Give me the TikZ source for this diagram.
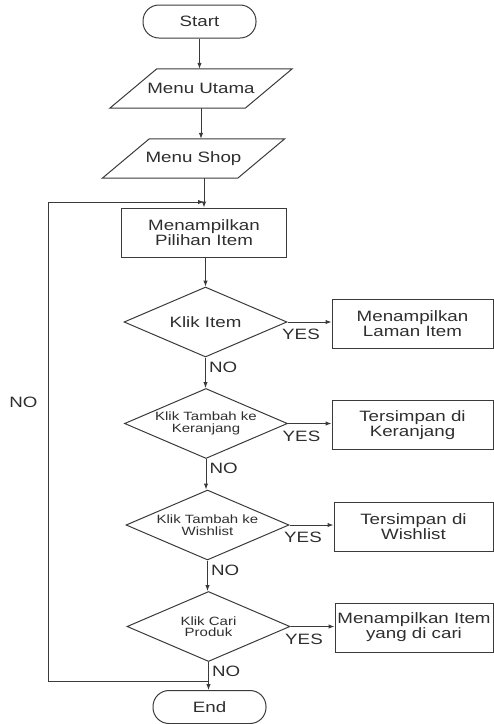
\documentclass[tikz,border=0pt]{standalone}
\usepackage{fontspec}
\setmainfont{Liberation Sans}[FakeStretch=1.25]
\usetikzlibrary{shapes.geometric,arrows.meta,calc}
\definecolor{ink}{HTML}{3A3A3A}
\definecolor{txt}{HTML}{2E2E2E}
\begin{document}
\begin{tikzpicture}[x=1pt,y=-1pt,
  every node/.style={text=txt, font=\fontsize{15}{15}\selectfont, align=center, inner sep=0pt},
  line/.style={draw=ink, line width=1pt},
  arr/.style={line, -{Latex[length=6pt,width=4.5pt]}},
  term/.style={line, rectangle, rounded corners=16pt, minimum width=113pt, minimum height=33pt},
  iobox/.style={minimum width=135pt, minimum height=39pt},
  procbox/.style={line, rectangle, minimum height=49pt},
  decision/.style={line, diamond, aspect=2.33, minimum width=163pt, minimum height=70pt},
  small/.style={font=\fontsize{12}{11.5}\selectfont},
  lbl/.style={font=\fontsize{15}{15}\selectfont}
]
\useasboundingbox (0,0) rectangle (494,724);

% terminals, input/output and process boxes
\node[term] (st) at (199.5,21.5) {Start};
\node[iobox] (mu) at (201,88.5) {Menu Utama};
\node[iobox] (ms) at (193.5,158.5) {Menu Shop};
\node[procbox, minimum width=165pt] (pil) at (204,232.5) {Menampilkan\\Pilihan Item};

% parallelogram outlines of the two menu nodes
\draw[line] ($(mu.north west)+(23.5,0)$) -- ($(mu.north east)+(23.5,0)$)
  -- ($(mu.south east)+(-23.5,0)$) -- ($(mu.south west)+(-23.5,0)$) -- cycle;
\draw[line] ($(ms.north west)+(23.5,0)$) -- ($(ms.north east)+(23.5,0)$)
  -- ($(ms.south east)+(-23.5,0)$) -- ($(ms.south west)+(-23.5,0)$) -- cycle;

% decisions
\node[decision] (d1) at (205.5,322) {Klik Item};
\node[decision, small] (d2) at (206,423.5) {Klik Tambah ke\\Keranjang};
\node[decision, small] (d3) at (207.5,525) {Klik Tambah ke\\Wishlist};
\node[decision, small] (d4) at (208.5,626.5) {Klik Cari\\Produk};

% outcomes
\node[procbox, minimum width=161pt] (b1) at (412.5,323.5) {Menampilkan\\Laman Item};
\node[procbox, minimum width=161pt] (b2) at (412.5,425) {Tersimpan di\\Keranjang};
\node[procbox, minimum width=159pt] (b3) at (413.5,526.5) {Tersimpan di\\Wishlist};
\node[procbox, minimum width=158pt] (b4) at (414,627.5) {Menampilkan Item\\yang di cari};

\node[term] (en) at (209.5,707) {End};

% main flow
\draw[arr] (st.south) -- (st.south |- mu.north);
\draw[arr] (mu.south) -- (mu.south |- ms.north);
\draw[arr] (pil.north |- ms.south) -- (pil.north);
\draw[arr] (pil.south -| d1.north) -- (d1.north);
\draw[arr] (d1.south) -- (d1.south |- d2.north);
\draw[arr] (d2.south) -- (d2.south |- d3.north);
\draw[arr] (d3.south) -- (d3.south |- d4.north);
\draw[arr] (d4.south) -- (d4.south |- en.north);

% YES branches
\foreach \d/\b in {d1/b1,d2/b2,d3/b3,d4/b4}{
  \draw[arr] (\d.east) -- (\d.east -| \b.west);
  \node[lbl] at ($(\d.east)+(13.5,12.5)$) {YES};
  \node[lbl, anchor=west] at ($(\d.south)+(3.5,9.5)$) {NO};
}

% loop back to the item list
\coordinate (lb) at (48,681);
\coordinate (lt) at (48,202);
\draw[arr] (d4.south |- lb) -- (lb) -- (lt) -- (lt -| pil.north);
\node[lbl] (nol) at (23.5,402.5) {NO};
\end{tikzpicture}
\end{document}
